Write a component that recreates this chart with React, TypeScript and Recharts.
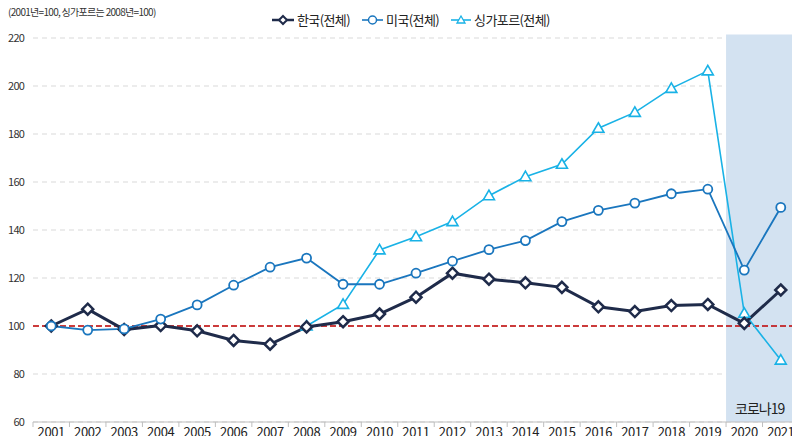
import { LineChart, Line, XAxis, YAxis, CartesianGrid, ReferenceLine, ReferenceArea } from 'recharts';

const years = ['2001', '2002', '2003', '2004', '2005', '2006', '2007', '2008', '2009', '2010', '2011', '2012', '2013', '2014', '2015', '2016', '2017', '2018', '2019', '2020', '2021'];
const korea = [100, 107, 98.5, 100.2, 98, 94, 92.4, 99.6, 101.8, 105, 112, 122, 119.5, 118, 116.1, 108, 106, 108.5, 109, 101.1, 115];
const usa = [100, 98.3, 98.8, 102.9, 108.8, 117, 124.5, 128.3, 117.4, 117.4, 122, 127, 131.8, 135.6, 143.5, 148.2, 151.2, 155.1, 157, 123.3, 149.4];
const singapore = [null, null, null, null, null, null, null, 100, 109, 131.7, 137.2, 143.5, 154.3, 162.2, 167.4, 182.4, 189, 199, 206.3, 105.3, 85.8];
const yTicks = [60, 80, 100, 120, 140, 160, 180, 200, 220];

const FONT = '"Noto Sans CJK KR", "Noto Sans", sans-serif';

// Series colors
const KOREA_COLOR = '#1f2b4a';
const USA_COLOR = '#1a76be';
const SG_COLOR = '#19b2e6';

const chartData = years.map((year, i) => ({
  year,
  korea: korea[i],
  usa: usa[i],
  singapore: singapore[i],
}));

function Diamond({ cx, cy }: { cx?: number; cy?: number }) {
  if (cx == null || cy == null) return null;
  const r = 5.5;
  return (
    <path
      d={`M${cx},${cy - r} L${cx + r},${cy} L${cx},${cy + r} L${cx - r},${cy} Z`}
      fill="#fff"
      stroke={KOREA_COLOR}
      strokeWidth={2.5}
    />
  );
}

function Triangle({ cx, cy }: { cx?: number; cy?: number }) {
  if (cx == null || cy == null) return null;
  return (
    <path
      d={`M${cx},${cy - 5.5} L${cx + 5.5},${cy + 4} L${cx - 5.5},${cy + 4} Z`}
      fill="#fff"
      stroke={SG_COLOR}
      strokeWidth={1.6}
    />
  );
}

// ticks sit on the band boundaries, labels in the middle
function XTick(props: any) {
  const { x, y, payload, index, width, visibleTicksCount } = props;
  const half = width && visibleTicksCount ? width / visibleTicksCount / 2 : 18.25;
  return (
    <g>
      <line x1={x - half} x2={x - half} y1={y} y2={y + 5} stroke="#bfbfbf" />
      {index === years.length - 1 && (
        <line x1={x + half} x2={x + half} y1={y} y2={y + 5} stroke="#bfbfbf" />
      )}
      <text x={x} y={y + 15} textAnchor="middle" fontSize={13} fill="#222" fontFamily={FONT} letterSpacing={-0.4}>
        {payload.value}
      </text>
    </g>
  );
}

function LegendItem({ label, color, shape, width }: { label: string; color: string; shape: 'diamond' | 'circle' | 'triangle'; width: number }) {
  return (
    <div style={{ display: 'flex', alignItems: 'center', marginRight: 12 }}>
      <svg width={width} height={14}>
        <line x1={0} x2={width} y1={7} y2={7} stroke={color} strokeWidth={shape === 'diamond' ? 2.5 : 1.6} />
        {shape === 'diamond' && <path d={`M${width / 2},3 L${width / 2 + 4},7 L${width / 2},11 L${width / 2 - 4},7 Z`} fill="#fff" stroke={color} strokeWidth={2} />}
        {shape === 'circle' && <circle cx={width / 2} cy={7} r={4} fill="#fff" stroke={color} strokeWidth={1.5} />}
        {shape === 'triangle' && <path d={`M${width / 2},3 L${width / 2 + 4},10 L${width / 2 - 4},10 Z`} fill="#fff" stroke={color} strokeWidth={1.3} />}
      </svg>
      <span style={{ marginLeft: 3, fontSize: 13, color: '#222', letterSpacing: -0.6 }}>{label}</span>
    </div>
  );
}

export default function App() {
  return (
    <div style={{ position: 'relative', width: 800, height: 444, margin: -8, fontFamily: FONT, background: '#fff' }}>
      <LineChart width={800} height={444} data={chartData} margin={{ top: 38, right: 1, left: 0, bottom: 0 }}>
        {/* 코로나19 shading sits under the grid */}
        <ReferenceArea x1="2020" x2="2021" y1={60} y2={221.5} fill="#d3e2f1" fillOpacity={1} stroke="none" ifOverflow="visible" />
        <CartesianGrid vertical={false} stroke="#d9d9d9" strokeDasharray="5 4" />
        <XAxis
          dataKey="year"
          scale="band"
          height={22}
          tickLine={false}
          tickSize={0}
          tickMargin={0}
          axisLine={{ stroke: '#bfbfbf' }}
          tick={<XTick />}
          interval={0}
        />
        <YAxis
          width={33}
          domain={[60, 220]}
          ticks={yTicks}
          axisLine={false}
          tickLine={false}
          tickSize={0}
          tickMargin={9}
          tick={{ fontSize: 11, fill: '#333', fontFamily: FONT, letterSpacing: -0.8 }}
        />
        <ReferenceLine y={100} stroke="#c00000" strokeWidth={1.6} strokeDasharray="6 3" />
        <Line dataKey="singapore" stroke={SG_COLOR} strokeWidth={1.6} dot={<Triangle />} isAnimationActive={false} />
        <Line dataKey="korea" stroke={KOREA_COLOR} strokeWidth={3} dot={<Diamond />} isAnimationActive={false} />
        <Line dataKey="usa" stroke={USA_COLOR} strokeWidth={1.8} dot={{ r: 4.5, fill: '#fff', stroke: USA_COLOR, strokeWidth: 1.8 }} isAnimationActive={false} />
      </LineChart>
      <div style={{ position: 'absolute', left: 8, top: 4, fontSize: 10, color: '#333', letterSpacing: -0.7, zIndex: 2, whiteSpace: 'nowrap' }}>
        (2001년=100, 싱가포르는 2008년=100)
      </div>
      <div style={{ position: 'absolute', left: 272, top: 10, display: 'flex', alignItems: 'center', zIndex: 2 }}>
        <LegendItem label="한국(전체)" color={KOREA_COLOR} shape="diamond" width={22} />
        <LegendItem label="미국(전체)" color={USA_COLOR} shape="circle" width={21} />
        <LegendItem label="싱가포르(전체)" color={SG_COLOR} shape="triangle" width={20} />
      </div>
      <div style={{ position: 'absolute', left: 735, top: 398, fontSize: 14, color: '#222', letterSpacing: -1, zIndex: 2 }}>
        코로나19
      </div>
    </div>
  );
}
